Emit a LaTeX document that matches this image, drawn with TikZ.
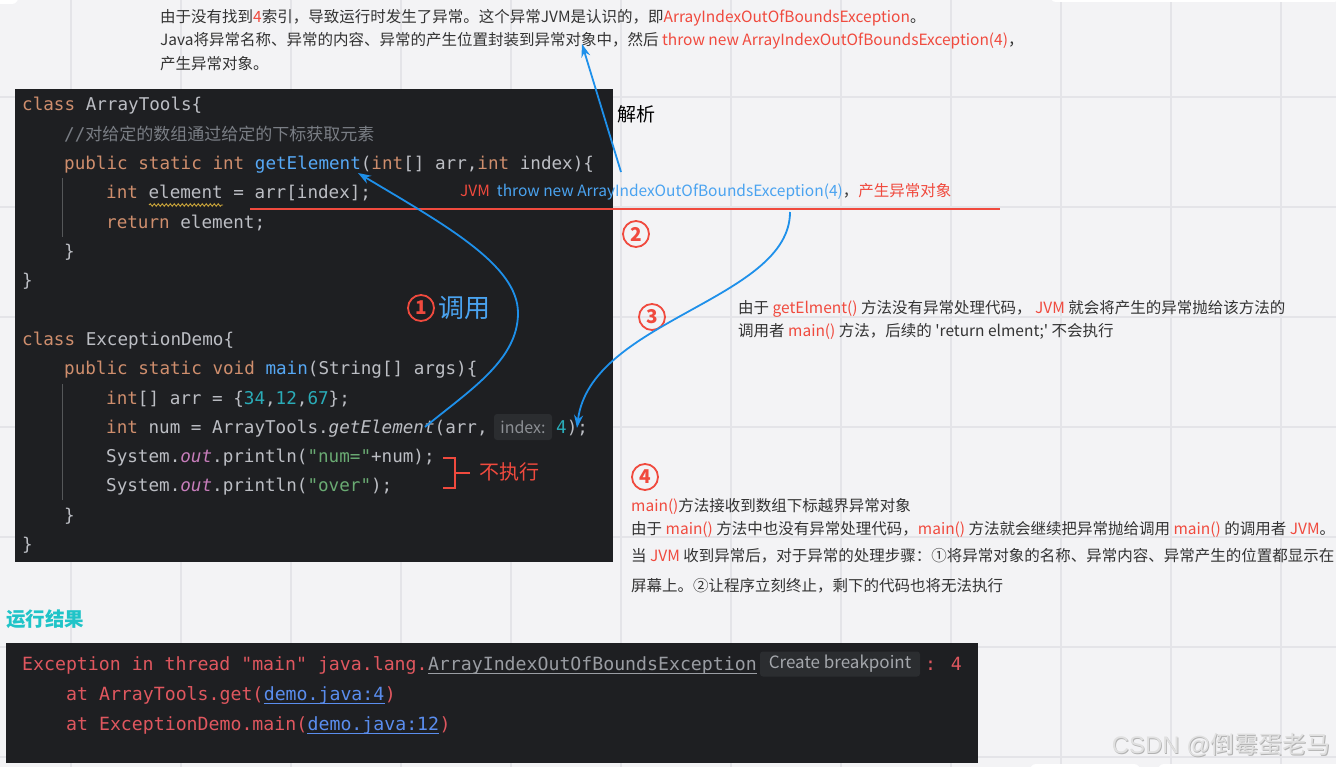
\documentclass[tikz,border=0pt]{standalone}
\usepackage{fontspec}
\usetikzlibrary{arrows.meta,decorations.pathmorphing}
\setmainfont{Noto Sans CJK SC}
\newfontfamily\codefont{DejaVu Sans Mono}
\newfontfamily\cjkfont{Noto Sans CJK SC}
\newfontfamily\wmfont{Liberation Sans}
\font\qfont="Noto Sans CJK SC" at 15.5pt
\definecolor{bg}{HTML}{F3F3F5}
\definecolor{gridc}{HTML}{E4E4E8}
\definecolor{codebg}{HTML}{1E1F22}
\definecolor{hintbg}{HTML}{2B2D30}
\definecolor{hinttx}{HTML}{8C8F94}
\definecolor{myred}{HTML}{F04A3E}
\definecolor{tblue}{HTML}{4AA3F0}
\definecolor{arrblue}{HTML}{1E90EA}
\definecolor{tealc}{HTML}{20C4C8}
\definecolor{prose}{HTML}{333333}
\definecolor{ctxt}{HTML}{BCBEC4}
\definecolor{ckw}{HTML}{CF8E6D}
\definecolor{ccmt}{HTML}{7A7E85}
\definecolor{cfn}{HTML}{56A8F5}
\definecolor{cnum}{HTML}{2AACB8}
\definecolor{cstr}{HTML}{6AAB73}
\definecolor{cfld}{HTML}{C77DBB}
\definecolor{rred}{HTML}{E0575F}
\definecolor{rgray}{HTML}{9A9DA3}
\definecolor{rlink}{HTML}{5A8DEE}
\definecolor{wavyc}{HTML}{C9A43A}
\newcommand\hlr[1]{\textcolor{myred}{#1}}
\newcommand\kw[1]{\textcolor{ckw}{#1}}
\newcommand\wmtext{{\wmfont CSDN @}{\cjkfont 倒霉蛋老马}}
\tikzset{
  gridline/.style={draw=gridc, line width=1.5pt},
  codeln/.style={anchor=base west, inner sep=0pt, text=ctxt, font=\codefont\fontsize{17.6}{20}\selectfont},
  runln/.style={anchor=base west, inner sep=0pt, text=rred, font=\codefont\fontsize{18.2}{20}\selectfont},
  prosetx/.style={anchor=west, inner sep=0pt, text=prose, font=\fontsize{15.5}{18}\selectfont},
  circnum/.style={circle, draw=myred, line width=1.8pt, text=myred, inner sep=0pt, minimum size=26pt, font=\fontsize{19}{19}\selectfont\bfseries},
  bluearr/.style={draw=arrblue, line width=1.8pt, -{Stealth[length=13pt,width=9pt]}},
  hintbox/.style={fill=hintbg, rounded corners=3pt, inner sep=0pt, text=hinttx, font=\fontsize{16}{18}\selectfont},
  guide/.style={draw=hintbg!80!white, line width=1pt},
  wmstyle/.style={anchor=east, inner sep=0pt, font=\fontsize{24}{26}\selectfont}
}
\begin{document}
\begin{tikzpicture}[x=1pt,y=-1pt]
\useasboundingbox (0,0) rectangle (1336,767);
\fill[bg] (0,0) rectangle (1336,767);
\foreach \gx in {71,181,...,1281} \draw[gridline] (\gx,0) -- (\gx,767);
\foreach \gy in {97,207,...,757} \draw[gridline] (0,\gy) -- (1336,\gy);
% white shapes at edges
\fill[white, rounded corners=6pt] (1050,-10) rectangle (1340,2);
\fill[white, rounded corners=6pt] (-10,-10) rectangle (18,4);
\fill[white, rounded corners=6pt] (1030,764) rectangle (1140,780);
\fill[white, rounded corners=6pt] (1158,764) rectangle (1345,780);

% top explanation text
\node[prosetx] (t1) at (160,18) {由于没有找到\hlr{4}索引，导致运行时发生了异常。这个异常JVM是认识的，即\hlr{ArrayIndexOutOfBoundsException}。};
\node[prosetx] (t2) at (160,41) {Java将异常名称、异常的内容、异常的产生位置封装到异常对象中，然后 \hlr{throw new ArrayIndexOutOfBoundsException(4)}，};
\node[prosetx] (t3) at (160,64) {产生异常对象。};
\node[anchor=west, inner sep=0pt, font=\fontsize{19}{20}\selectfont] (jx) at (617,114) {解析};

% code block
\fill[codebg] (15,89) rectangle (613,562);
\draw[guide] (62,178) -- (62,237);
\draw[guide] (62,384) -- (62,500);
\node[codeln] (c1) at (22,111) {\kw{class} ArrayTools\{};
\node[codeln, text=ccmt] (c2) at (64,140.3) {//{\cjkfont\fontsize{17}{20}\selectfont 对给定的数组通过给定的下标获取元素}};
\node[codeln] (c3) at (64,169.6) {\kw{public static int} \textcolor{cfn}{getElement}(\kw{int}[] arr,\kw{int} index)\{};
\node[codeln] (c4) at (106,198.9) {\kw{int} element = arr[index];};
\draw[wavyc, line width=0.9pt, decorate, decoration={snake, amplitude=1.3pt, segment length=4pt}] (149,205) -- (223,205);
\node[codeln] (c5) at (106,228.2) {\kw{return} element;};
\node[codeln] (c6) at (64,257.5) {\}};
\node[codeln] (c7) at (22,286.8) {\}};
\node[codeln] (c9) at (22,345.4) {\kw{class} ExceptionDemo\{};
\node[codeln] (c10) at (64,374.7) {\kw{public static void} \textcolor{cfn}{main}(String[] args)\{};
\node[codeln] (c11) at (106,404) {\kw{int}[] arr = \{\textcolor{cnum}{34},\textcolor{cnum}{12},\textcolor{cnum}{67}\};};
\node[codeln] (c12) at (106,433.3) {\kw{int} num = ArrayTools.{\itshape getElement}(arr,};
\node[hintbox, minimum width=58pt, minimum height=26pt] (hint1) at (523,427) {index:};
\node[codeln] (c12b) at (556,433.3) {\textcolor{cnum}{4});};
\node[codeln] (c13) at (106,462.6) {System.\textcolor{cfld}{\itshape out}.println(\textcolor{cstr}{"num="}+num);};
\node[codeln] (c14) at (106,491.9) {System.\textcolor{cfld}{\itshape out}.println(\textcolor{cstr}{"over"});};
\node[codeln] (c15) at (64,521.2) {\}};
\node[codeln] (c16) at (22,550.5) {\}};

% not executed bracket
\draw[myred, line width=2pt] (443,458) -- (455,458) -- (455,488) -- (443,488);
\draw[myred, line width=2pt] (455,473) -- (470,473);
\node[anchor=west, inner sep=0pt, text=myred, font=\fontsize{20}{22}\selectfont] (nx) at (479,472) {不执行};

% JVM line and red underline
\coordinate (rl1) at (250,209);
\coordinate (rl2) at (1000,209);
\draw[myred, line width=2pt] (rl1) -- (rl2);
\node[prosetx] (jvm) at (460,192) {\hlr{JVM}\ \ \textcolor{tblue}{throw new ArrayIndexOutOfBoundsException(4)}，\hlr{产生异常对象}};

% circled numbers
\node[circnum] (n1) at (421,308) {1};
\node[anchor=west, inner sep=0pt, text=tblue, font=\fontsize{26}{28}\selectfont] (dy) at (438,308) {调用};
\node[circnum] (n2) at (636,234) {2};
\node[circnum] (n3) at (652,317) {3};
\node[circnum] (n4) at (645,477) {4};

% explanation 3
\node[prosetx] (e31) at (738,309) {由于 \hlr{getElment()} 方法没有异常处理代码， \hlr{JVM} 就会将产生的异常抛给该方法的};
\node[prosetx] (e32) at (738,331) {调用者 \hlr{main()} 方法，后续的 {\qfont '}return elment;{\qfont '} 不会执行};

% explanation 4
\node[prosetx] (e41) at (631,506) {\hlr{main()}方法接收到数组下标越界异常对象};
\node[prosetx] (e42) at (631,529) {由于 \hlr{main()} 方法中也没有异常处理代码，\hlr{main()} 方法就会继续把异常抛给调用 \hlr{main()} 的调用者 \hlr{JVM}。};
\node[prosetx] (e43) at (631,556) {当 \hlr{JVM} 收到异常后，对于异常的处理步骤：①将异常对象的名称、异常内容、异常产生的位置都显示在};
\node[prosetx] (e44) at (631,586) {屏幕上。②让程序立刻终止，剩下的代码也将无法执行};

% arrows
\coordinate (a0s) at (621,172);
\coordinate (a0e) at (582,44);
\draw[bluearr] (a0s) -- (a0e);
\coordinate (a1s) at (425,427);
\coordinate (a1m) at (518,313);
\coordinate (a1e) at (358,173);
\draw[bluearr] (a1s) .. controls (470,390) and (518,360) .. (a1m) .. controls (518,265) and (445,225) .. (a1e);
\coordinate (a3s) at (790,212);
\coordinate (a3e) at (577,428);
\draw[bluearr] (a3s) .. controls (790,300) and (590,320) .. (a3e);

% run result
\node[anchor=west, inner sep=0pt, text=tealc, font=\fontsize{19.5}{21}\selectfont\bfseries] (yx) at (6,619) {运行结果};
\fill[codebg] (6,643) rectangle (978,763);
\node[runln] (r1a) at (22,670) {Exception in thread "main" java.lang.};
\node[runln, text=rgray] (r1b) at (r1a.base east) {ArrayIndexOutOfBoundsException};
\draw[rgray, line width=1.2pt] ([yshift=-3.5pt]r1b.base west) -- ([yshift=-3.5pt]r1b.base east);
\node[hintbox, minimum width=160pt, minimum height=25pt, text=rgray!90!white, font=\fontsize{17}{18}\selectfont] (hint2) at (840,664) {Create breakpoint};
\node[runln] (r1c) at (925,670) {: 4};
\node[runln] (r2a) at (66,700) {at ArrayTools.get(};
\node[runln, text=rlink] (r2b) at (r2a.base east) {demo.java:4};
\node[runln] (r2c) at (r2b.base east) {)};
\draw[rlink, line width=1.2pt] ([yshift=-3.5pt]r2b.base west) -- ([yshift=-3.5pt]r2b.base east);
\node[runln] (r3a) at (66,730) {at ExceptionDemo.main(};
\node[runln, text=rlink] (r3b) at (r3a.base east) {demo.java:12};
\node[runln] (r3c) at (r3b.base east) {)};
\draw[rlink, line width=1.2pt] ([yshift=-3.5pt]r3b.base west) -- ([yshift=-3.5pt]r3b.base east);

% watermark
\node[wmstyle, text=black!30] (wms) at (1331.8,745.8) {\wmtext};
\node[wmstyle, text=black!12] (wm) at (1331,745) {\wmtext};
\end{tikzpicture}
\end{document}
